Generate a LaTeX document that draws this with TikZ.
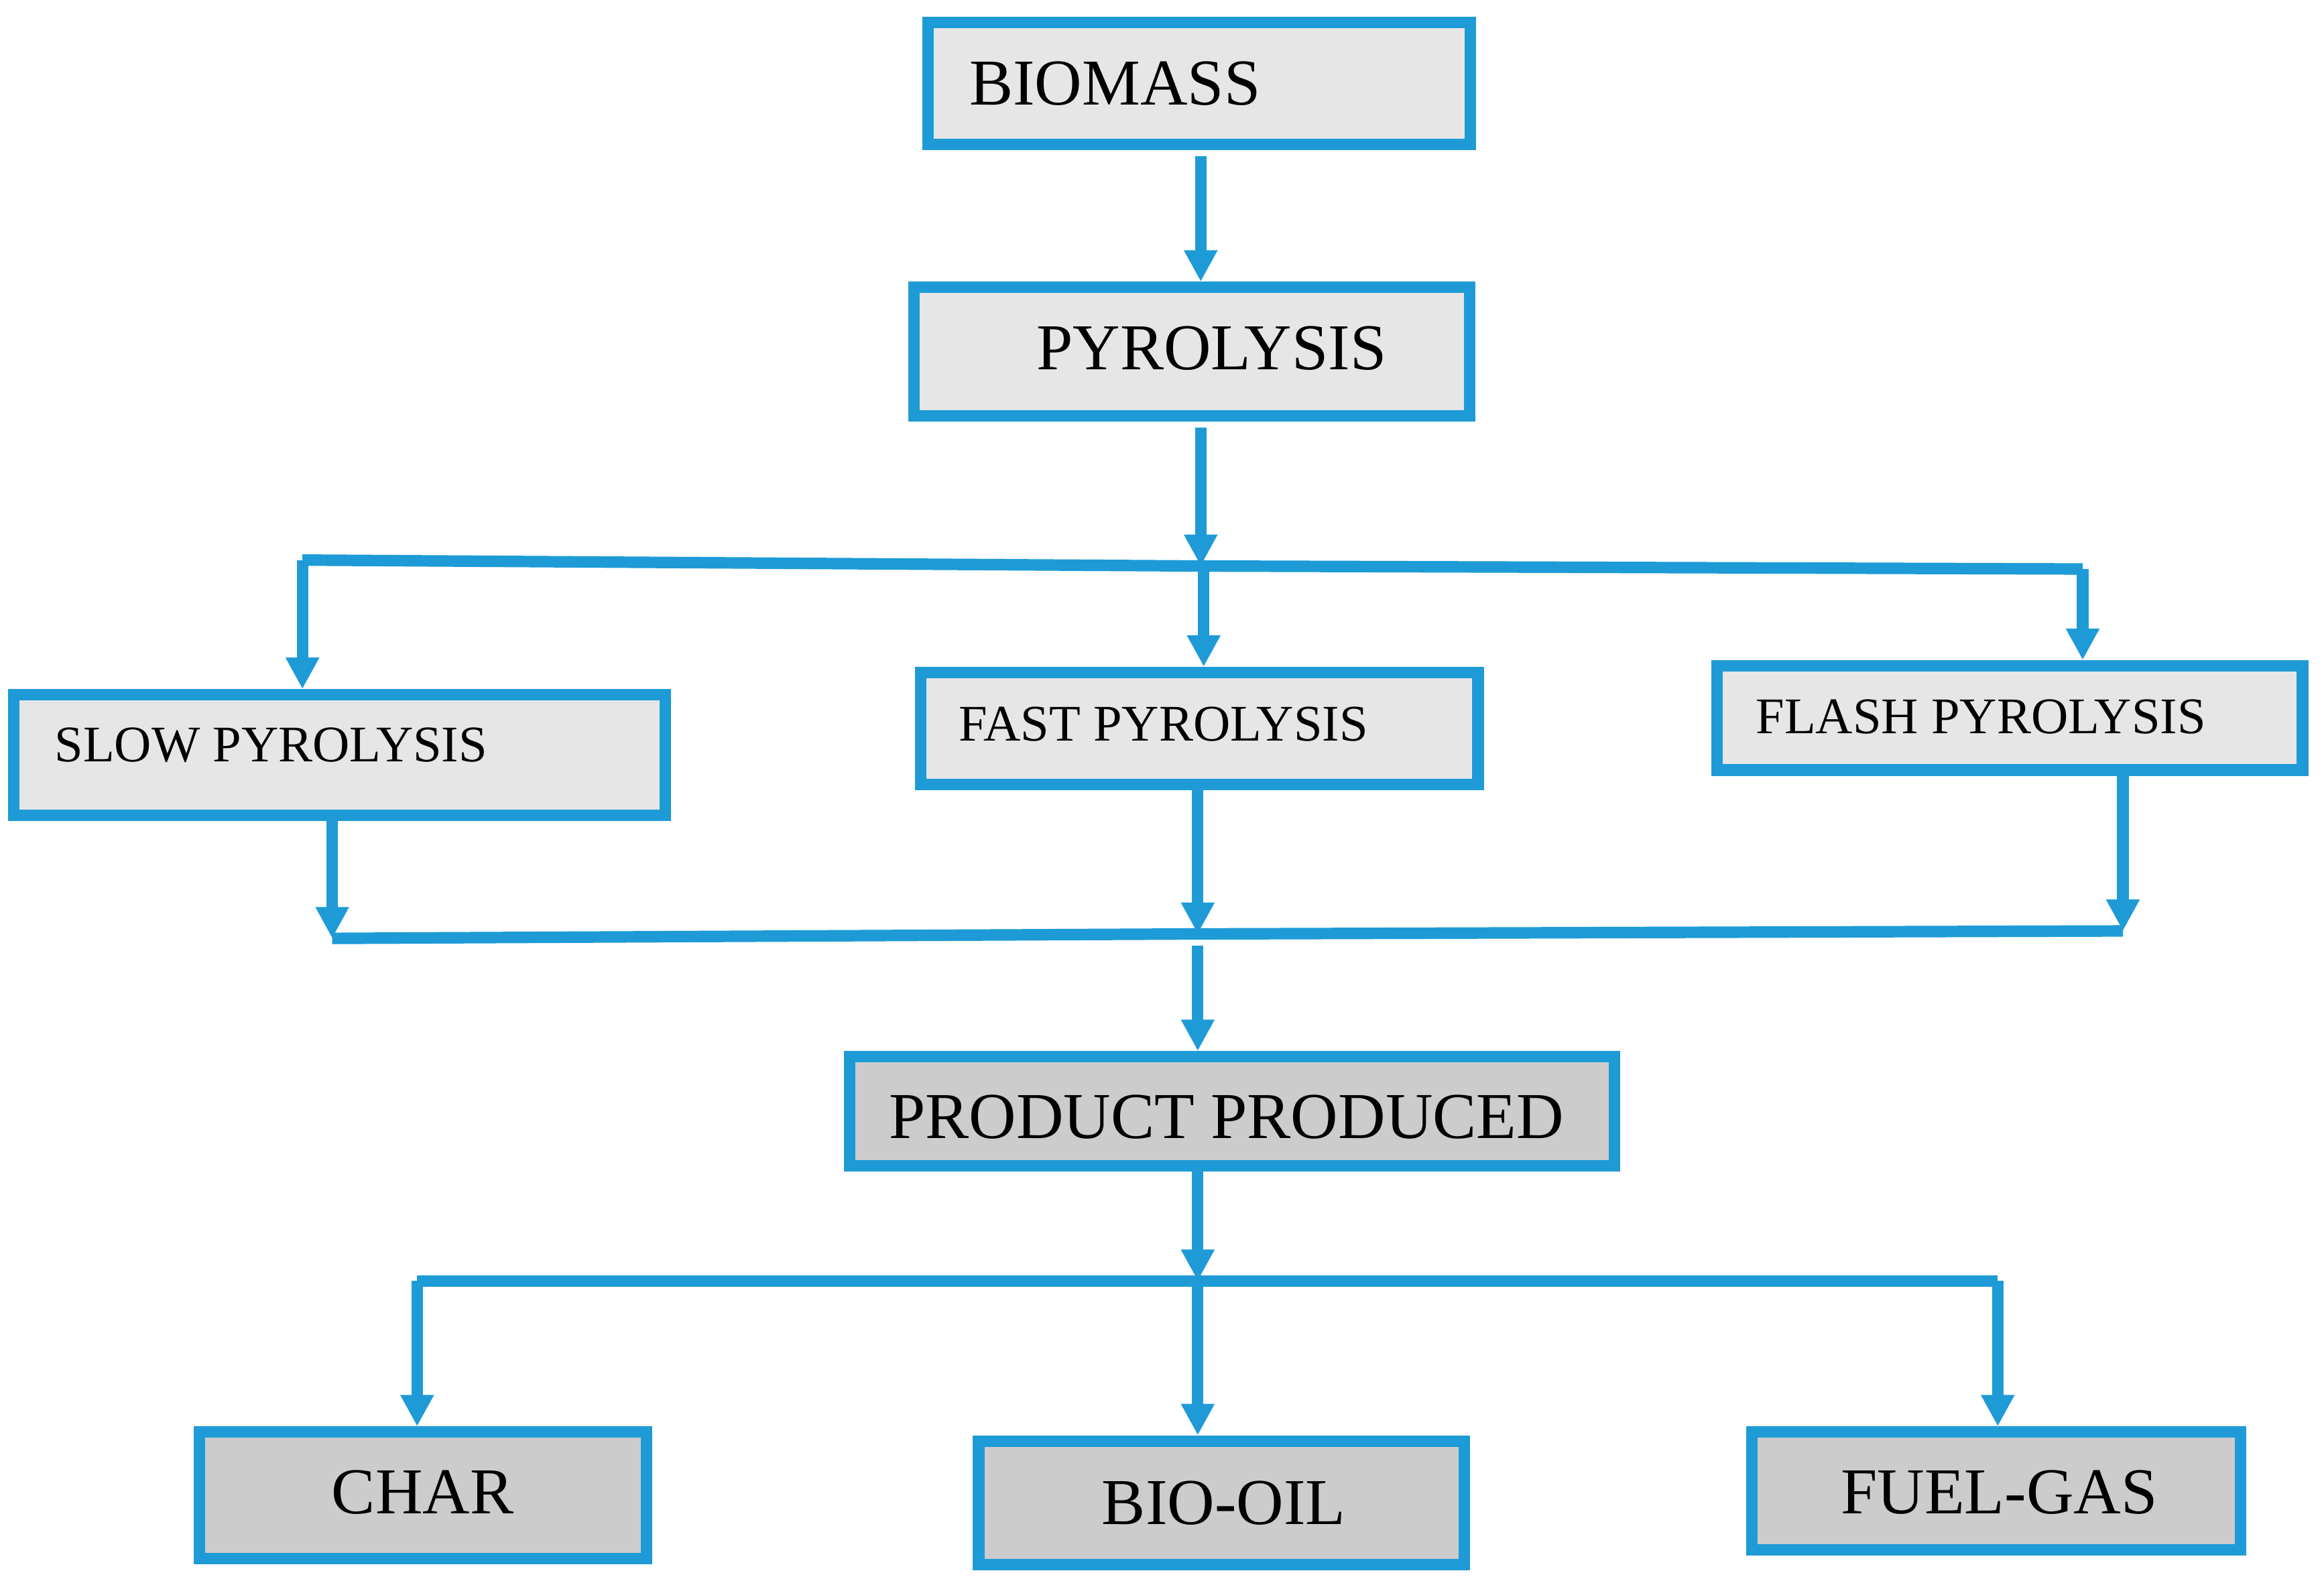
\documentclass[tikz,border=0pt]{standalone}
\usepackage{fontspec}
\setmainfont{Liberation Serif}
\usetikzlibrary{arrows.meta}
\definecolor{pblue}{HTML}{1E9BD7}
\definecolor{lightbox}{HTML}{E6E6E6}
\definecolor{darkbox}{HTML}{CCCCCC}

\begin{document}
\begin{tikzpicture}[x=0.01cm,y=-0.01cm,
    box/.style={draw=pblue,line width=2.2pt,fill=lightbox,inner sep=0pt},
    prod/.style={box,fill=darkbox},
    big/.style={anchor=west,inner sep=0pt,font=\fontsize{12.5}{14}\selectfont},
    small/.style={anchor=west,inner sep=0pt,font=\fontsize{9.8}{12}\selectfont},
    flow/.style={draw=pblue,line width=2.2pt},
    arr/.style={flow,-{Triangle[length=6pt,width=6pt]}}]
  \useasboundingbox (0,0) rectangle (1560,1060);

  % boxes
  \node[box,minimum width=3.64cm,minimum height=0.82cm]  (bm)  at (805,56)   {};
  \node[box,minimum width=3.73cm,minimum height=0.86cm]  (py)  at (800,236)  {};
  \node[box,minimum width=4.37cm,minimum height=0.81cm]  (slow) at (228,507) {};
  \node[box,minimum width=3.74cm,minimum height=0.75cm]  (fast) at (805,489) {};
  \node[box,minimum width=3.93cm,minimum height=0.70cm]  (flash) at (1349,482) {};
  \node[prod,minimum width=5.13cm,minimum height=0.73cm] (pp)  at (827,746)  {};
  \node[prod,minimum width=3.00cm,minimum height=0.85cm] (char) at (284,1004) {};
  \node[prod,minimum width=3.26cm,minimum height=0.83cm] (oil) at (820,1009) {};
  \node[prod,minimum width=3.28cm,minimum height=0.79cm] (gas) at (1340,1001) {};

  % labels
  \node[big]   (bm-t)    at (650,56)   {BIOMASS};
  \node[big]   (py-t)    at (695,234)  {PYROLYSIS};
  \node[small] (slow-t)  at (36,500)   {SLOW PYROLYSIS};
  \node[small] (fast-t)  at (643,486)  {FAST PYROLYSIS};
  \node[small] (flash-t) at (1178,481) {FLASH PYROLYSIS};
  \node[big]   (pp-t)    at (596,750)  {PRODUCT PRODUCED};
  \node[big]   (char-t)  at (222,1002) {CHAR};
  \node[big]   (oil-t)   at (739,1009) {BIO-OIL};
  \node[big]   (gas-t)   at (1235,1002) {FUEL-GAS};

  % junctions
  \coordinate (j1) at (806,380);
  \coordinate (j1l) at (203,376);
  \coordinate (j1r) at (1398,382);
  \coordinate (j2l) at (223,630);
  \coordinate (j2) at (804,627);
  \coordinate (j2r) at (1425,625);
  \coordinate (j3) at (804,860);
  \coordinate (j3l) at (280,860);
  \coordinate (j3r) at (1341,860);

  \draw[arr] (806,100 |- bm.south) ++(0,4) -- (py.north -| 806,0);
  \draw[arr] (py.south -| 806,0) ++(0,4) -- (j1);
  \draw[flow] (j1l) -- (j1) -- (j1r);
  \draw[arr] (j1l) -- (slow.north -| j1l);
  \draw[arr] (808,380) -- (fast.north -| 808,0);
  \draw[arr] (j1r) -- (flash.north -| j1r);
  \draw[arr] (slow.south -| j2l) ++(0,-6) -- (j2l);
  \draw[arr] (fast.south -| j2) -- (j2);
  \draw[arr] (flash.south -| j2r) -- (j2r);
  \draw[flow] (j2l) -- (j2) -- (j2r);
  \draw[arr] (j2) ++(0,8) -- (pp.north -| j2);
  \draw[arr] (pp.south -| j3) -- (j3);
  \draw[flow] (j3l) -- (j3) -- (j3r);
  \draw[arr] (j3l) -- (char.north -| j3l);
  \draw[arr] (j3) -- (oil.north -| j3);
  \draw[arr] (j3r) -- (gas.north -| j3r);
\end{tikzpicture}
\end{document}
